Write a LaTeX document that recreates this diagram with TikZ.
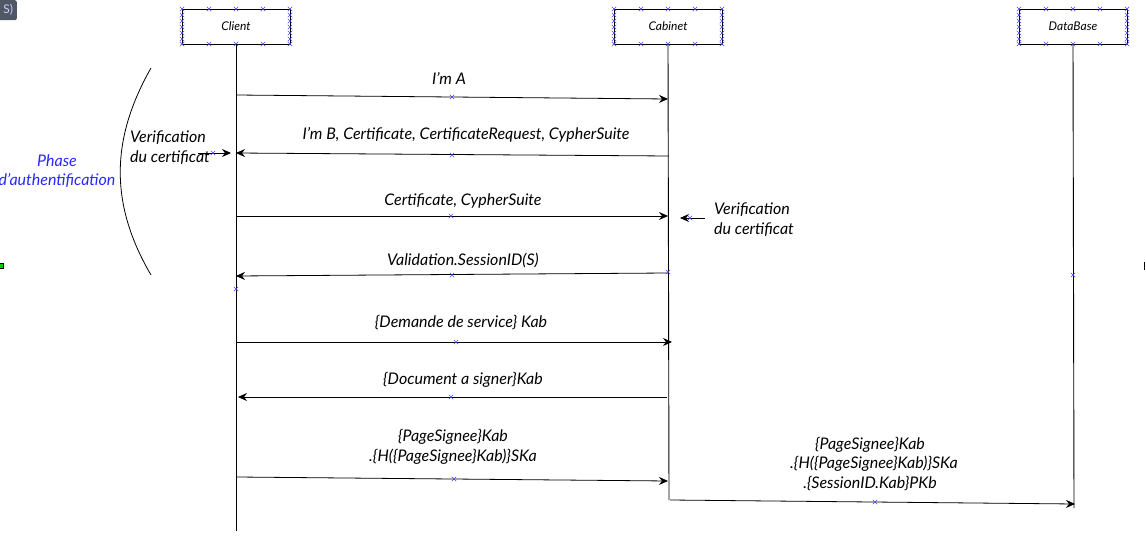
\documentclass[tikz,border=0pt]{standalone}
\usepackage{fontspec}
\setmainfont{Lato}
\usetikzlibrary{arrows.meta,calc}
\definecolor{xblue}{RGB}{70,70,240}
\definecolor{phaseblue}{RGB}{40,40,255}
\definecolor{badge}{RGB}{80,88,102}
\tikzset{
  actor/.style={draw, line width=0.9pt, minimum width=108pt, minimum height=35pt, inner sep=0pt, font=\fontsize{12}{14}\selectfont\itshape},
  life/.style={line width=0.9pt},
  msg/.style={line width=0.8pt, -{Stealth[length=9pt,width=8pt,inset=3pt]}},
  lbl/.style={inner sep=0pt, align=center, font=\fontsize{16}{19.5}\selectfont\itshape},
  note/.style={inner sep=0pt, align=left, font=\fontsize{16}{20}\selectfont\itshape},
  bx/.pic={\draw[xblue, line width=0.4pt] (-2.2,-2.2)--(2.2,2.2) (-2.2,2.2)--(2.2,-2.2);}
}
\begin{document}
\begin{tikzpicture}[x=1pt,y=-1pt]
\useasboundingbox (0,0) rectangle (1146,559);
% UI fragments
\node[fill=badge, rounded corners=2pt, minimum width=20pt, minimum height=20pt, inner sep=0pt, text=white!80!blue, font=\fontsize{12}{13}\selectfont, anchor=north east] (badge) at (17,0) {\hspace*{3pt}S)};
\node[draw=black, fill=green!80!black, minimum size=5pt, inner sep=0pt, line width=0.5pt] (gsq) at (1,266) {};
\coordinate (tickA) at (1144,262); \coordinate (tickB) at (1144,270);
\draw[line width=0.9pt] (tickA) -- (tickB);
% actors
\node[actor] (client) at (236,26.5) {Client};
\node[actor] (cabinet) at (668,26.5) {Cabinet};
\node[actor] (db) at (1073,26.5) {DataBase};
% crosses on boxes
\foreach \c/\l in {236/182, 668/614, 1073/1019}{
  \foreach \dx in {0,27,54,81,108}{
    \pic at (\l+\dx,9) {bx};
    \pic at (\l+\dx,44) {bx};
  }
  \foreach \yy in {15,21,27,33,39}{
    \pic at (\l,\yy) {bx};
    \pic at (\l+108,\yy) {bx};
  }
}
% lifelines
\coordinate (clientEnd) at (236,531);
\coordinate (cabEnd) at (669,500);
\coordinate (dbEnd) at (1074,508);
\draw[life] (client.south) -- (clientEnd);
\draw[life] (cabinet.south) -- (cabEnd);
\draw[life] (db.south) -- (dbEnd);
% message endpoints
\coordinate (m1s) at (236,95);  \coordinate (m1e) at (668,99);
\coordinate (m2s) at (669,156); \coordinate (m2e) at (236,153);
\coordinate (m3s) at (236,216); \coordinate (m3e) at (668,216);
\coordinate (m4s) at (668,273); \coordinate (m4e) at (236,276);
\coordinate (m5s) at (237,342); \coordinate (m5e) at (672,342);
\coordinate (m6s) at (667,397); \coordinate (m6e) at (238,397);
\coordinate (m7s) at (237,477); \coordinate (m7e) at (668,481);
\coordinate (m8s) at (670,500); \coordinate (m8e) at (1075,504);
\draw[msg] (m1s) -- (m1e);
\draw[msg] (m2s) -- (m2e);
\draw[msg] (m3s) -- (m3e);
\draw[msg] (m4s) -- (m4e);
\draw[msg] (m5s) -- (m5e);
\draw[msg] (m6s) -- (m6e);
\draw[msg] (m7s) -- (m7e);
\draw[msg] (m8s) -- (m8e);
% labels
\node[lbl] (l1) at (449,78) {I'm A};
\node[lbl] (l2) at (466,135) {I'm B, Certificate, CertificateRequest, CypherSuite};
\node[lbl] (l3) at (463,201) {Certificate, CypherSuite};
\node[lbl] (l4) at (463,260) {Validation.SessionID(S)};
\node[lbl] (l5) at (461,323) {\{Demande de service\} Kab};
\node[lbl] (l6) at (463,380) {\{Document a signer\}Kab};
\node[lbl] (l7) at (453,447) {\{PageSignee\}Kab\\ .\{H(\{PageSignee\}Kab)\}SKa};
\node[lbl] (l8) at (870,464) {\{PageSignee\}Kab\\ \hspace*{8pt}.\{H(\{PageSignee\}Kab)\}SKa\\ .\{SessionID.Kab\}PKb};
% verification notes
\node[note, anchor=north west] (v1) at (130,131) {Verification\\du certificat};
\coordinate (v1a) at (198,153); \coordinate (v1b) at (231,153);
\draw[msg] (v1a) -- (v1b);
\node[note, anchor=north west] (v2) at (714,203) {Verification\\du certificat};
\coordinate (v2a) at (705,218); \coordinate (v2b) at (680,218);
\draw[msg] (v2a) -- (v2b);
% phase
\coordinate (arcT) at (151,68); \coordinate (arcB) at (151,275);
\draw[line width=0.8pt] (arcT) .. controls (110,140) and (110,205) .. (arcB);
\node[lbl, text=phaseblue, font=\fontsize{16}{19}\selectfont\itshape] (phase) at (57,171) {Phase\\d'authentification};
% crosses on messages and lifelines
\foreach \p in {(452,97),(452,155),(451,216),(452,275),(456,342),(451,397),(454,479),(875,502),(213,153),(690,218),(236,289),(668,272),(1073,275)}{
  \pic at \p {bx};
}
\end{tikzpicture}
\end{document}
